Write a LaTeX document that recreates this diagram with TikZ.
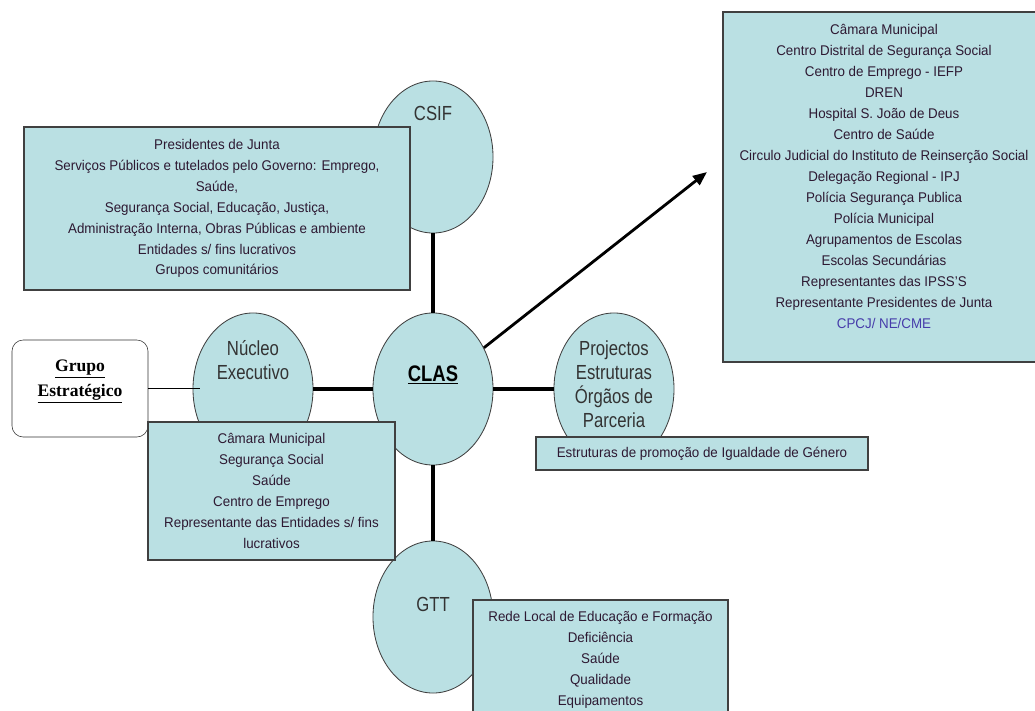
\documentclass[tikz,border=0pt]{standalone}
\usepackage{fontspec}
\setmainfont{Liberation Sans}[FakeStretch=0.95]
\newfontfamily\elipfont{Liberation Sans}[FakeStretch=0.82]
\newfontfamily\grupofont{Liberation Serif}
\usetikzlibrary{shapes.geometric,arrows.meta}
\definecolor{fundo}{RGB}{186,224,227}
\definecolor{texto}{RGB}{45,25,50}
\definecolor{azul}{RGB}{70,60,170}

\begin{document}
\begin{tikzpicture}[x=0.025cm,y=-0.025cm,
    elipse/.style={ellipse, draw=black!75, fill=fundo, line width=0.6pt, minimum width=3cm, minimum height=3.8cm, inner sep=0pt},
    caixa/.style={rectangle, draw=black!75, fill=fundo, line width=0.9pt, align=center, text=texto, font=\fontsize{10}{14.9}\selectfont, inner sep=0pt},
    rotulo/.style={align=center, text=black!80, font=\elipfont\fontsize{14.5}{17}\selectfont},
    liga/.style={line width=2.6pt}]
    \useasboundingbox (0,0) rectangle (1035,711);
    \clip (0,0) rectangle (1035,711);

    % Elipses
    \foreach \nome/\x/\y in {csif/433/157, clas/433/389, nucleo/253/389, proj/614/389, gtt/433/617} {
            \node[elipse] (\nome) at (\x,\y) {};
        }

    % Ligacoes
    \foreach \alvo in {csif, nucleo, proj, gtt} {
            \draw[liga] (clas) -- (\alvo);
        }
    \coordinate (seta) at (707,172);
    \draw[line width=2pt, -{Triangle[length=10pt,width=8pt]}] (clas.39) -- (seta);

    % Textos das elipses
    \node[rotulo] (tcsif) at (433,113) {CSIF};
    \node[rotulo, text=black, font=\elipfont\bfseries\fontsize{16}{18}\selectfont] (tclas) at (433,375) {\underline{CLAS}};
    \node[rotulo] (tnucleo) at (253,360) {Núcleo\\Executivo};
    \node[rotulo] (tproj) at (614,384) {Projectos\\Estruturas\\Órgãos de\\Parceria};
    \node[rotulo] (tgtt) at (433,604) {GTT};

    % Grupo estrategico
    \node[draw=black!80, fill=white, rounded corners=8pt, minimum width=3.4cm, minimum height=2.425cm, align=center,
        font=\grupofont\bfseries\fontsize{12.5}{17.7}\selectfont] (grupo) at (80,388.5) {\underline{Grupo}\\\underline{Estratégico}\\[-3pt]\mbox{}};
    \coordinate (fim) at (200,388.5);
    \draw[line width=0.7pt] (grupo.east) -- (fim);

    % Caixas
    \node[caixa, minimum width=9.65cm, minimum height=4.075cm] (cxcsif) at (217,208.5)
    {Presidentes de Junta\\Serviços Públicos e tutelados pelo Governo: Emprego,\\Saúde,\\Segurança Social, Educação, Justiça,\\Administração Interna, Obras Públicas e ambiente\\Entidades s/ fins lucrativos\\Grupos comunitários};
    \node[caixa, minimum width=6.175cm, minimum height=3.45cm] (cxnucleo) at (271.5,491)
    {Câmara Municipal\\Segurança Social\\Saúde\\Centro de Emprego\\Representante das Entidades s/ fins\\lucrativos};
    \node[caixa, minimum width=8.3cm, minimum height=0.825cm] (cxigual) at (702,453.5)
    {Estruturas de promoção de Igualdade de Género};
    \node[caixa, minimum width=6.375cm, minimum height=3cm] (cxgtt) at (600.5,660)
    {Rede Local de Educação e Formação\\Deficiência\\Saúde\\Qualidade\\Equipamentos};
    \node[caixa, minimum width=8.05cm, minimum height=8.75cm] (cxclas) at (884,187)
    {Câmara Municipal\\Centro Distrital de Segurança Social\\Centro de Emprego - IEFP\\DREN\\Hospital S. João de Deus\\Centro de Saúde\\Circulo Judicial do Instituto de Reinserção Social\\Delegação Regional - IPJ\\Polícia Segurança Publica\\Polícia Municipal\\Agrupamentos de Escolas\\Escolas Secundárias\\Representantes das IPSS'S\\Representante Presidentes de Junta\\\textcolor{azul}{CPCJ/ NE/CME}\\\mbox{}};
\end{tikzpicture}
\end{document}
